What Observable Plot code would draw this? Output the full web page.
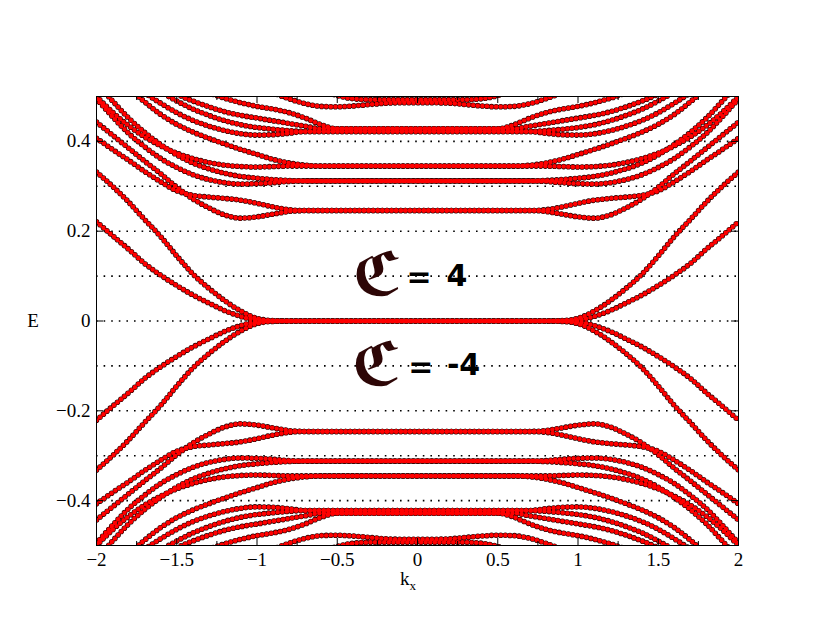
<!DOCTYPE html>
<html><head><meta charset="utf-8">
<script src="https://cdn.jsdelivr.net/npm/d3@7"></script>
<script src="https://cdn.jsdelivr.net/npm/@observablehq/plot@0.6"></script>
<style>body{margin:0;background:#fff;} #chart{width:830px;height:642px;}</style>
</head><body><div id="chart"></div>
<script>
// k grid (right half; the spectrum is symmetric in k and in E)
const kHalf = [0,0.1,0.2,0.3,0.4,0.5,0.6,0.7,0.8,0.9,1.0,1.1,1.2,1.3,1.4,1.5,1.6,1.7,1.8,1.9,2.0];

// Upper (E >= 0) bands, values at kHalf
const zeroA = [0,0,0,0,0,0,0,0,0,0.001,0.006,0.022,0.045,0.073,0.105,0.145,0.188,0.226,0.265,0.3,0.332];
const zeroB = [0,0,0,0,0,0,0,0,0,0,0.002,0.01,0.023,0.04,0.058,0.079,0.102,0.128,0.16,0.19,0.221];
const l1Up  = [0.246,0.246,0.246,0.246,0.246,0.246,0.246,0.246,0.248,0.254,0.262,0.269,0.273,0.276,0.28,0.29,0.31,0.333,0.358,0.382,0.407];
const l1Lo  = [0.246,0.246,0.246,0.246,0.246,0.246,0.246,0.246,0.244,0.238,0.232,0.229,0.236,0.252,0.272,0.298,0.328,0.356,0.385,0.414,0.443];
const l2Up  = [0.312,0.312,0.312,0.312,0.312,0.312,0.312,0.312,0.313,0.315,0.318,0.322,0.329,0.339,0.352,0.37,0.393,0.42,0.452,0.49,0.53];
const l2Lo  = [0.312,0.312,0.312,0.312,0.312,0.312,0.312,0.312,0.311,0.308,0.306,0.305,0.308,0.315,0.326,0.342,0.362,0.388,0.418,0.455,0.495];
const l3Up  = [0.345,0.345,0.345,0.345,0.345,0.345,0.345,0.347,0.352,0.36,0.371,0.382,0.394,0.407,0.421,0.438,0.46,0.488,0.52,null,null];
const l3Lo  = [0.345,0.345,0.345,0.345,0.345,0.345,0.345,0.345,0.345,0.344,0.343,0.344,0.347,0.353,0.362,0.374,0.39,0.41,0.435,0.465,0.5];
const l4a   = [0.428,0.428,0.428,0.428,0.428,0.428,0.437,0.452,0.464,0.472,0.478,0.486,0.496,0.508,null,null,null,null,null,null,null];
const l4b   = [0.428,0.428,0.428,0.428,0.428,0.428,0.428,0.434,0.44,0.446,0.452,0.458,0.466,0.477,0.49,0.505,null,null,null,null,null];
const l4c   = [0.422,0.422,0.422,0.422,0.422,0.422,0.422,0.422,0.424,0.427,0.431,0.437,0.446,0.458,0.472,0.49,0.51,null,null,null,null];
const l4d   = [0.422,0.422,0.422,0.422,0.422,0.422,0.422,0.422,0.418,0.415,0.414,0.417,0.424,0.434,0.447,0.464,0.485,0.508,null,null,null];
const top1  = [0.493,0.493,0.493,0.493,0.495,0.502,0.515,null,null,null,null,null,null,null,null,null,null,null,null,null,null];
const top2  = [0.486,0.486,0.485,0.482,0.479,0.477,0.478,0.484,0.495,0.508,null,null,null,null,null,null,null,null,null,null,null];
const upperBands = [zeroA, zeroB, l1Up, l1Lo, l2Up, l2Lo, l3Up, l3Lo, l4a, l4b, l4c, l4d, top1, top2];

const gridE = [-0.4,-0.3,-0.2,-0.1,0,0.1,0.2,0.3,0.4];
const xTicks = [-2,-1.5,-1,-0.5,0,0.5,1,1.5,2];
const xMinorTicks = [-1.75,-1.25,-0.75,-0.25,0.25,0.75,1.25,1.75];
const yTicks = [-0.4,-0.2,0,0.2,0.4];

const annoSymbol = ["ℭ","ℭ"];
const annoSymbolK = [-0.25,-0.255];
const annoSymbolE = [0.1,-0.099];
const annoText = ["=","4","=","-4"];
const annoTextK = [0.01,0.245,0.02,0.287];
const annoTextE = [0.097,0.1,-0.104,-0.099];

// build rows: mirror in k (E(-k)=E(k)) and in E (particle-hole)
const rows = [];
upperBands.forEach((vals, b) => {
  for (const s of [1,-1]) {
    const id = b + "_" + s;
    for (let i = kHalf.length - 1; i > 0; --i) rows.push({id, k: -kHalf[i], E: vals[i] == null ? null : s * vals[i]});
    for (let i = 0; i < kHalf.length; ++i) rows.push({id, k: kHalf[i], E: vals[i] == null ? null : s * vals[i]});
  }
});

const W = 830, H = 642, mL = 96, mR = 92, mT = 96, mB = 97;
const fw = W - mL - mR, fh = H - mT - mB;
const fmt = d => String(d).replace("-", "\u2212");

const lineOpts = {x: "k", y: "E", z: "id", curve: "monotone-x", strokeDasharray: "0 4.6", strokeLinecap: "round", clip: true};

const chart = Plot.plot({
  width: W, height: H,
  marginLeft: mL, marginRight: mR, marginTop: mT, marginBottom: mB,
  x: {domain: [-2, 2]},
  y: {domain: [-0.5, 0.5]},
  style: {fontFamily: "'Liberation Serif', 'Times New Roman', serif", fontSize: "19px", background: "white", color: "black"},
  marks: [
    Plot.ruleY(gridE, {stroke: "black", strokeWidth: 1.6, strokeDasharray: "1.6 6"}),
    Plot.line(rows, {...lineOpts, stroke: "#220000", strokeWidth: 5.6}),
    Plot.line(rows, {...lineOpts, stroke: "#ff0000", strokeWidth: 4.5}),
    Plot.frame({stroke: "black", strokeWidth: 1}),
    Plot.tickX(xTicks, {insetTop: fh - 7, stroke: "black"}),
    Plot.tickX(xTicks, {insetBottom: fh - 7, stroke: "black"}),
    Plot.tickX(xMinorTicks, {insetTop: fh - 4, stroke: "black"}),
    Plot.tickX(xMinorTicks, {insetBottom: fh - 4, stroke: "black"}),
    Plot.tickY(yTicks, {insetRight: fw - 7, stroke: "black"}),
    Plot.tickY(yTicks, {insetLeft: fw - 7, stroke: "black"}),
    Plot.axisX(xTicks, {anchor: "bottom", tickSize: 0, tickPadding: 7, label: null, tickFormat: fmt, fontSize: 19}),
    Plot.axisY(yTicks, {anchor: "left", tickSize: 0, tickPadding: 6, label: null, tickFormat: fmt, fontSize: 19}),
    Plot.text(annoSymbol, {x: (d, i) => annoSymbolK[i], y: (d, i) => annoSymbolE[i], text: d => d,
      fontFamily: "'DejaVu Sans', sans-serif", fontWeight: "bold", fontSize: 60, fill: "#2d0606"}),
    Plot.text(annoText, {x: (d, i) => annoTextK[i], y: (d, i) => annoTextE[i], text: d => d,
      fontFamily: "'DejaVu Sans', sans-serif", fontWeight: "bold", fontSize: 30, fill: "black"})
  ]
});

const svg = d3.select(chart);
svg.append("text").attr("x", 33).attr("y", 320).attr("text-anchor", "middle").attr("dominant-baseline", "central")
  .style("font-family", "'Liberation Serif', serif").style("font-size", "19px").attr("fill", "black").text("E");
const kl = svg.append("text").attr("x", 408).attr("y", 585)
  .style("font-family", "'Liberation Serif', serif").style("font-size", "19px").attr("fill", "black");
kl.append("tspan").text("k");
kl.append("tspan").attr("dy", 5).style("font-size", "13px").text("x");

document.getElementById("chart").appendChild(chart);
</script>
</body></html>
